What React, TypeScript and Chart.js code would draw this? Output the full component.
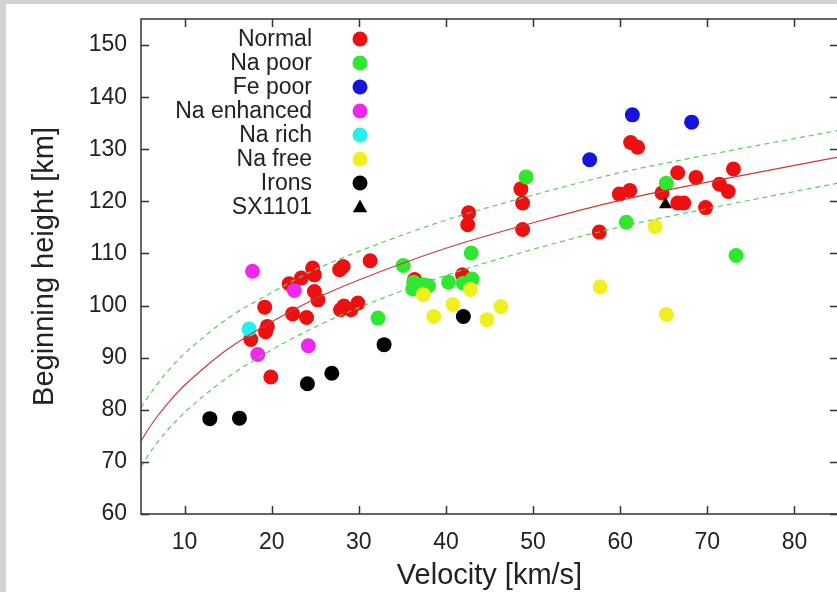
import React, { useEffect, useRef } from 'react';
import { Chart, registerables } from 'chart.js';
Chart.register(...registerables);

// ---- axis ticks ----
const xTicks = [10, 20, 30, 40, 50, 60, 70, 80];
const yTicks = [60, 70, 80, 90, 100, 110, 120, 130, 140, 150];

// ---- series (velocity [km/s], beginning height [km]) ----
const normalV = [17.6, 19.2, 19.5, 19.3, 19.9, 22.0, 22.4, 23.4, 24.0, 24.7, 24.9, 24.9, 25.3, 27.8, 28.2, 27.9, 28.3, 29.1, 29.9, 31.3, 36.4, 41.9, 42.5, 42.6, 48.6, 48.8, 48.8, 57.6, 59.9, 61.1, 61.2, 62.0, 64.8, 66.6, 66.6, 67.3, 68.7, 69.8, 71.4, 72.4, 73.0];
const normalH = [93.5, 99.7, 96.0, 95.0, 86.3, 104.2, 98.4, 105.3, 97.7, 107.2, 105.9, 102.7, 101.1, 106.9, 107.5, 99.2, 99.9, 99.2, 100.5, 108.6, 105.0, 105.9, 115.5, 117.8, 122.4, 119.7, 114.6, 114.1, 121.4, 122.1, 131.3, 130.4, 121.6, 125.5, 119.7, 119.7, 124.6, 118.8, 123.3, 121.9, 126.2];

const naPoorV = [32.2, 35.1, 36.3, 37.4, 38.0, 36.2, 40.3, 42.0, 43.0, 42.9, 49.2, 60.7, 65.3, 73.3];
const naPoorH = [97.6, 107.7, 104.5, 104.0, 103.8, 103.2, 104.5, 104.3, 105.1, 110.1, 124.7, 116.0, 123.5, 109.6];

const fePoorV = [56.5, 61.4, 68.2];
const fePoorH = [128.0, 136.6, 135.2];

const naEnhancedV = [17.8, 22.6, 24.2, 18.4];
const naEnhancedH = [106.6, 102.9, 92.3, 90.6];

const naRichV = [17.4];
const naRichH = [95.5];

const naFreeV = [37.4, 38.6, 40.8, 42.8, 44.7, 46.3, 57.7, 64.0, 65.3];
const naFreeH = [102.1, 97.9, 100.2, 103.1, 97.3, 99.8, 103.6, 115.2, 98.3];

const ironsV = [12.9, 16.3, 24.1, 26.9, 32.9, 42.0];
const ironsH = [78.3, 78.4, 85.0, 87.0, 92.5, 97.9];

const sxV = [65.2];
const sxH = [119.4];

// ---- fit curve and envelope ----
const fitV = [5, 6, 7, 8, 10, 12, 15, 20, 25, 30, 40, 50, 60, 70, 85];
const fitMain = [74.0, 76.7, 79.0, 81.1, 84.7, 87.7, 91.7, 96.9, 101.3, 104.9, 111.0, 115.9, 120.2, 123.7, 128.5];
const fitUpper = [80.4, 82.9, 85.2, 87.3, 90.8, 93.7, 97.6, 102.5, 106.9, 110.4, 116.4, 121.2, 125.5, 128.9, 133.6];
const fitLower = [69.1, 71.7, 74.0, 76.0, 79.5, 82.4, 86.3, 91.5, 95.9, 99.6, 105.8, 110.8, 115.1, 118.6, 123.5];

const FONT = "'Liberation Sans', Arial, sans-serif";
const TEXT = '#222222';

const pts = (xs: number[], ys: number[]) => xs.map((x, i) => ({ x, y: ys[i] }));

const groups = [
  { label: 'Normal', v: normalV, h: normalH, color: '#ee1010', style: 'circle' },
  { label: 'Na poor', v: naPoorV, h: naPoorH, color: '#2ee82e', style: 'circle' },
  { label: 'Fe poor', v: fePoorV, h: fePoorH, color: '#1414dc', style: 'circle' },
  { label: 'Na enhanced', v: naEnhancedV, h: naEnhancedH, color: '#ee28ee', style: 'circle' },
  { label: 'Na rich', v: naRichV, h: naRichH, color: '#28eeee', style: 'circle' },
  { label: 'Na free', v: naFreeV, h: naFreeH, color: '#f0f020', style: 'circle' },
  { label: 'Irons', v: ironsV, h: ironsH, color: '#000000', style: 'circle' },
  { label: 'SX1101', v: sxV, h: sxH, color: '#000000', style: 'triangle' },
];

const framePlugin = {
  id: 'frameLegend',
  afterDraw(chart: any) {
    const { ctx, chartArea: a, scales } = chart;
    const x = scales.x;
    const y = scales.y;
    ctx.save();
    ctx.strokeStyle = '#333';
    ctx.lineWidth = 1.5;
    ctx.strokeRect(a.left, a.top, a.right - a.left, a.bottom - a.top);
    ctx.beginPath();
    const tl = 8;
    xTicks.forEach((v) => {
      const px = Math.round(x.getPixelForValue(v)) + 0.5;
      ctx.moveTo(px, a.bottom);
      ctx.lineTo(px, a.bottom - tl);
      ctx.moveTo(px, a.top);
      ctx.lineTo(px, a.top + tl);
    });
    yTicks.forEach((v) => {
      const py = Math.round(y.getPixelForValue(v)) + 0.5;
      ctx.moveTo(a.left, py);
      ctx.lineTo(a.left + tl, py);
      ctx.moveTo(a.right, py);
      ctx.lineTo(a.right - tl, py);
    });
    ctx.stroke();

    // legend
    ctx.font = `23px ${FONT}`;
    ctx.textAlign = 'right';
    ctx.textBaseline = 'middle';
    groups.forEach((g, i) => {
      const cy = 35 + i * 24;
      ctx.fillStyle = TEXT;
      ctx.fillText(g.label, 306, cy + 1);
      ctx.fillStyle = g.color;
      ctx.beginPath();
      if (g.style === 'triangle') {
        const r = 7.5;
        ctx.moveTo(354, cy - r);
        ctx.lineTo(354 + r * 0.95, cy + r * 0.7);
        ctx.lineTo(354 - r * 0.95, cy + r * 0.7);
        ctx.closePath();
      } else {
        ctx.arc(354, cy, 7.5, 0, Math.PI * 2);
      }
      ctx.fill();
    });
    ctx.restore();
  },
};

export default function App() {
  const ref = useRef<HTMLCanvasElement | null>(null);

  useEffect(() => {
    if (!ref.current) return;
    const n = groups.length;
    const scatterSets = groups.map((g, i) => ({
      type: 'scatter' as const,
      label: g.label,
      data: pts(g.v, g.h),
      backgroundColor: g.color,
      borderColor: g.color,
      borderWidth: 0,
      pointRadius: 7.5,
      pointStyle: g.style,
      order: n - i,
    }));
    const lineSets = [
      { data: pts(fitV, fitUpper), color: '#5ccc5c', dash: [5, 4], width: 1.2 },
      { data: pts(fitV, fitLower), color: '#5ccc5c', dash: [5, 4], width: 1.2 },
      { data: pts(fitV, fitMain), color: '#c83c3c', dash: [], width: 1.2 },
    ].map((l) => ({
      type: 'scatter' as const,
      label: '',
      data: l.data,
      showLine: true,
      borderColor: l.color,
      backgroundColor: l.color,
      borderWidth: l.width,
      borderDash: l.dash,
      pointRadius: 0,
      cubicInterpolationMode: 'monotone' as const,
      order: 0,
    }));

    const chart = new Chart(ref.current, {
      type: 'scatter',
      data: { datasets: [...lineSets, ...scatterSets] as any },
      plugins: [framePlugin],
      options: {
        animation: false,
        responsive: false,
        events: [],
        layout: { padding: { left: 0, top: 15, right: 8, bottom: 0 } },
        plugins: { legend: { display: false }, tooltip: { enabled: false } },
        scales: {
          x: {
            type: 'linear',
            min: 5,
            max: 85,
            grid: { display: false, drawTicks: false },
            border: { display: false },
            afterBuildTicks: (s: any) => {
              s.ticks = xTicks.map((v) => ({ value: v }));
            },
            afterFit: (s: any) => {
              s.height = 78;
              s.paddingLeft = 0;
              s.paddingRight = 0;
            },
            ticks: {
              padding: 15,
              color: TEXT,
              font: { size: 23, family: FONT },
              maxRotation: 0,
              autoSkip: false,
            },
            title: {
              display: true,
              text: 'Velocity [km/s]',
              color: TEXT,
              font: { size: 29, family: FONT, lineHeight: 1 },
              padding: { top: 0, bottom: 1.5 },
            },
          },
          y: {
            type: 'linear',
            min: 60,
            max: 155,
            grid: { display: false, drawTicks: false },
            border: { display: false },
            afterBuildTicks: (s: any) => {
              s.ticks = yTicks.map((v) => ({ value: v }));
            },
            afterFit: (s: any) => {
              s.width = 135;
              s.paddingTop = 0;
              s.paddingBottom = 0;
            },
            ticks: {
              padding: 14,
              color: TEXT,
              font: { size: 23, family: FONT },
              autoSkip: false,
            },
            title: {
              display: true,
              text: 'Beginning height [km]',
              color: TEXT,
              font: { size: 29, family: FONT, lineHeight: 1 },
              padding: { top: 24.5, bottom: 0 },
            },
          },
        },
      } as any,
    });
    return () => chart.destroy();
  }, []);

  return (
    <div
      style={{
        position: 'fixed',
        left: 0,
        top: 0,
        width: 837,
        height: 592,
        background: '#d3d3d3',
        overflow: 'hidden',
      }}
    >
      <div
        style={{
          position: 'absolute',
          left: 6,
          top: 4,
          width: 840,
          height: 588,
          background: '#ffffff',
        }}
      >
        <canvas ref={ref} width={840} height={588} style={{ display: 'block', width: 840, height: 588 }} />
      </div>
    </div>
  );
}
